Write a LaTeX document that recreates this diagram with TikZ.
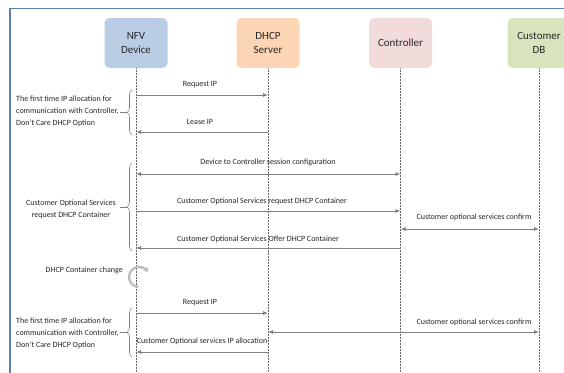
\documentclass[tikz,border=0pt]{standalone}
\usepackage{fontspec}
\setmainfont{Carlito}
\usetikzlibrary{arrows.meta,decorations.pathreplacing}
\definecolor{nfvblue}{HTML}{B9CDE5}
\definecolor{dhcporange}{HTML}{FCD5B5}
\definecolor{ctrlpink}{HTML}{F2DCDB}
\definecolor{dbgreen}{HTML}{D7E4BD}
\definecolor{framecol}{HTML}{5B7FB0}
\definecolor{msgcol}{HTML}{808080}
\definecolor{txtcol}{HTML}{262626}
\tikzset{
  head/.style={rounded corners=5pt, minimum width=63pt, minimum height=50pt, align=center,
    font=\fontsize{11}{14}\selectfont, text=txtcol, inner sep=1pt},
  life/.style={draw=msgcol!80!black, densely dotted, line width=0.5pt},
  msg/.style={draw=msgcol, line width=0.8pt, -{Latex[length=5pt,width=4pt]}},
  msgboth/.style={draw=msgcol, line width=0.8pt, {Latex[length=5pt,width=4pt]}-{Latex[length=5pt,width=4pt]}},
  lbl/.style={font=\fontsize{8}{9}\selectfont, text=txtcol, inner sep=0pt},
  grp/.style={font=\fontsize{8}{12}\selectfont, text=txtcol, inner sep=0pt},
  bracestyle/.style={draw=msgcol, line width=0.6pt, decorate, decoration={brace, amplitude=5pt}},
  tick/.style={draw=msgcol, line width=0.6pt},
  cyc/.style={draw=black!25, line width=2.4pt, -{Triangle[length=4pt,width=6.5pt]}},
  framestyle/.style={draw=framecol, line width=1.5pt}
}
\begin{document}
\begin{tikzpicture}[x=1pt,y=-1pt]
\useasboundingbox (0,0) rectangle (564,372);
% frame
\coordinate (fbl) at (10,373);
\coordinate (ftl) at (10,8.5);
\coordinate (ftr) at (565,8.5);
\draw[framestyle] (fbl) -- (ftl) -- (ftr);
% heads
\node[head, fill=nfvblue] (nfv) at (136,43) {NFV\\Device};
\node[head, fill=dhcporange] (dhcp) at (268,43) {DHCP\\Server};
\node[head, fill=ctrlpink] (ctrl) at (400.5,43) {Controller};
\node[head, fill=dbgreen] (db) at (539,43) {Customer\\DB};
% lifelines
\coordinate (nfvE) at (136,372);
\coordinate (dhcpE) at (268,372);
\coordinate (ctrlE) at (400.5,372);
\coordinate (dbE) at (539,372);
\draw[life] (nfv.south) -- (nfvE);
\draw[life] (dhcp.south) -- (dhcpE);
\draw[life] (ctrl.south) -- (ctrlE);
\draw[life] (db.south) -- (dbE);
% messages
\draw[msg] (nfv.south |- 0,95) -- (dhcp.south |- 0,95);
\node[lbl] (m1) at (200,85) {Request IP};
\draw[msg] (dhcp.south |- 0,132) -- (nfv.south |- 0,132);
\node[lbl] (m2) at (200,122) {Lease IP};
\draw[msgboth] (nfv.south |- 0,174) -- (ctrl.south |- 0,174);
\node[lbl] (m3) at (268,162) {Device to Controller session configuration};
\draw[msg] (nfv.south |- 0,211) -- (ctrl.south |- 0,211);
\node[lbl] (m4) at (262,201) {Customer Optional Services request DHCP Container};
\draw[msgboth] (ctrl.south |- 0,229) -- (db.south |- 0,229);
\node[lbl] (m5) at (474,217) {Customer optional services confirm};
\draw[msg] (ctrl.south |- 0,248) -- (nfv.south |- 0,248);
\node[lbl] (m6) at (258,239) {Customer Optional Services Offer DHCP Container};
% container change
\node[lbl, anchor=east] (chg) at (123,270) {DHCP Container change};
\coordinate (cyc0) at (139,277);
\draw[cyc] ([shift={(-95:10pt)}]cyc0) arc[start angle=-95, end angle=-330, radius=10pt];
% second allocation
\draw[msg] (nfv.south |- 0,313) -- (dhcp.south |- 0,313);
\node[lbl] (m7) at (200,303) {Request IP};
\draw[msgboth] (dhcp.south |- 0,332) -- (db.south |- 0,332);
\node[lbl] (m8) at (474,322) {Customer optional services confirm};
\draw[msg] (dhcp.south |- 0,352) -- (nfv.south |- 0,352);
\node[lbl] (m9) at (202,341) {Customer Optional services IP allocation};
% groups
\coordinate (b1a) at (132,135); \coordinate (b1b) at (132,90);
\draw[bracestyle] (b1a) -- (b1b);
\coordinate (t1a) at (126.5,112.5); \coordinate (t1b) at (120,112.5);
\draw[tick] (t1a) -- (t1b);
\node[grp, anchor=west, align=left] (g1) at (16,111) {The first time IP allocation for\\communication with Controller,\\Don't Care DHCP Option};
\coordinate (b2a) at (132,251); \coordinate (b2b) at (132,163);
\draw[bracestyle] (b2a) -- (b2b);
\coordinate (t2a) at (126.5,207); \coordinate (t2b) at (120,207);
\draw[tick] (t2a) -- (t2b);
\node[grp, align=center] (g2) at (71,209) {Customer Optional Services\\request DHCP Container};
\coordinate (b3a) at (132,357); \coordinate (b3b) at (132,308);
\draw[bracestyle] (b3a) -- (b3b);
\coordinate (t3a) at (126.5,332.5); \coordinate (t3b) at (120,332.5);
\draw[tick] (t3a) -- (t3b);
\node[grp, anchor=west, align=left] (g3) at (16,333) {The first time IP allocation for\\communication with Controller,\\Don't Care DHCP Option};
\end{tikzpicture}
\end{document}
